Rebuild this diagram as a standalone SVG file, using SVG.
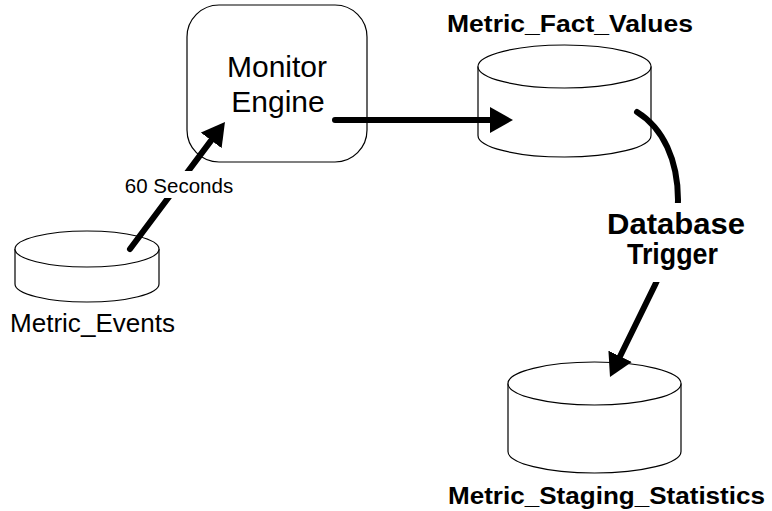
<svg xmlns="http://www.w3.org/2000/svg" width="772" height="511" viewBox="0 0 772 511">
  <style>
    .shape { fill: #ffffff; stroke: #000000; stroke-width: 1.2; }
    .flow { fill: none; stroke: #000000; stroke-width: 6; stroke-linecap: round; }
    .lbl { font-family: "Liberation Sans", Arial, sans-serif; fill: #000000; text-anchor: middle; }
    .bold { font-weight: bold; }
  </style>
  <defs>
    <marker id="head" markerUnits="userSpaceOnUse" markerWidth="24" markerHeight="26" refX="0" refY="13" orient="auto">
      <path d="M0,0 L23,13 L0,26 Z" fill="#000000"/>
    </marker>
  </defs>

  <rect width="772" height="511" fill="#ffffff"/>

  <!-- Monitor Engine process -->
  <g id="monitor-engine">
    <rect class="shape" x="187" y="5" width="180" height="157" rx="32" ry="32"/>
    <text class="lbl" x="277" y="77" font-size="30">Monitor</text>
    <text class="lbl" x="278" y="112" font-size="30">Engine</text>
  </g>

  <!-- Metric_Events table -->
  <g id="metric-events">
    <path class="shape" d="M15,249 L15,284 A72,18 0 0 0 159,284 L159,249"/>
    <ellipse class="shape" cx="87" cy="249" rx="72" ry="18"/>
    <text class="lbl" x="92.5" y="332" font-size="25" textLength="165" lengthAdjust="spacingAndGlyphs">Metric_Events</text>
  </g>

  <!-- Metric_Fact_Values table -->
  <g id="metric-fact-values">
    <path class="shape" d="M478,66.5 L478,135.5 A86.5,21.5 0 0 0 651,135.5 L651,66.5"/>
    <ellipse class="shape" cx="564.5" cy="66.5" rx="86.5" ry="21.5"/>
    <text class="lbl bold" x="570" y="31.5" font-size="23.5" textLength="246" lengthAdjust="spacingAndGlyphs">Metric_Fact_Values</text>
  </g>

  <!-- Metric_Staging_Statistics table -->
  <g id="metric-staging-statistics">
    <path class="shape" d="M508,383.5 L508,451.5 A86.5,21.5 0 0 0 681,451.5 L681,383.5"/>
    <ellipse class="shape" cx="594.5" cy="383.5" rx="86.5" ry="21.5"/>
    <text class="lbl bold" x="606.5" y="503.5" font-size="23.5" textLength="317" lengthAdjust="spacingAndGlyphs">Metric_Staging_Statistics</text>
  </g>

  <!-- Connectors -->
  <g id="connectors">
    <path class="flow" d="M130,249 L211.2,140.4" marker-end="url(#head)"/>
    <rect x="120" y="171" width="118" height="27" fill="#ffffff"/>
    <text class="lbl" x="179" y="193" font-size="20.5">60 Seconds</text>

    <path class="flow" d="M335,120 L490,120" marker-end="url(#head)"/>

    <path class="flow" d="M637,112 C663,128 678,160 678,200 C678,235 668,257 655,285 L620.1,356.3" marker-end="url(#head)"/>
    <rect x="600" y="203" width="152" height="79" fill="#ffffff"/>
    <text class="lbl bold" x="676" y="233.5" font-size="29" textLength="138" lengthAdjust="spacingAndGlyphs">Database</text>
    <text class="lbl bold" x="672.5" y="263.5" font-size="29" textLength="91" lengthAdjust="spacingAndGlyphs">Trigger</text>
  </g>
</svg>
